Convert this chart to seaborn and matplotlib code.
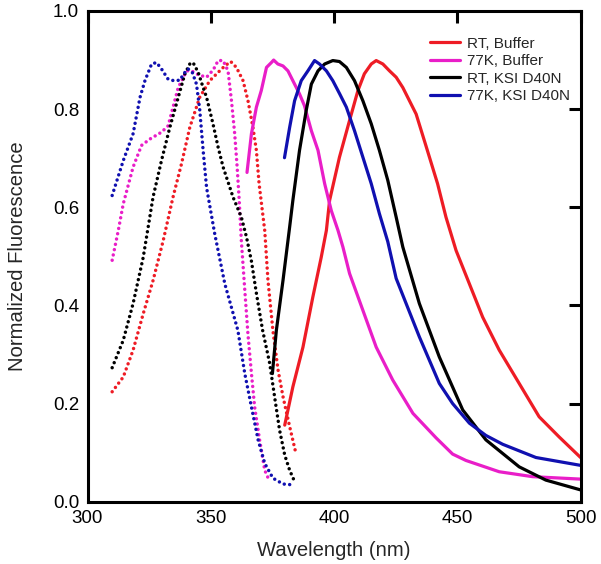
import numpy as np
import pandas as pd
import seaborn as sns
import matplotlib
matplotlib.use("Agg")
from matplotlib import pyplot as plt

# excitation spectra (dotted)
ex_rt_buf_x = [310, 314.5, 318.5, 322.6, 326.6, 330.7, 334.7, 338.1, 341.5, 345.5, 349.6, 353, 355.7, 358.1, 360.4,
               363.1, 365.1, 367.1, 368.5, 369.6, 371.9, 373.2, 375.2, 377.3, 379.3, 382, 384.7]
ex_rt_buf_y = [0.224, 0.254, 0.309, 0.383, 0.451, 0.532, 0.621, 0.688, 0.763, 0.824, 0.858, 0.875, 0.888, 0.897, 0.885,
               0.858, 0.817, 0.763, 0.716, 0.648, 0.552, 0.451, 0.349, 0.268, 0.214, 0.153, 0.095]

ex_77_buf_x = [310, 312.5, 314.5, 318.5, 321.9, 325.3, 330, 332.7, 334.7, 336.8, 340.2, 342.2, 345, 348.3, 351, 353,
               355, 357, 358.4, 359.7, 360.7, 361.5, 362.4, 363.8, 365.1, 366.5, 367.8, 369.8, 371.9, 373.9]
ex_77_buf_y = [0.492, 0.553, 0.607, 0.682, 0.726, 0.739, 0.753, 0.766, 0.804, 0.844, 0.878, 0.878, 0.87, 0.865, 0.88,
               0.899, 0.899, 0.878, 0.817, 0.75, 0.682, 0.617, 0.532, 0.431, 0.34, 0.261, 0.193, 0.126, 0.064, 0.041]

ex_rt_ksi_x = [310, 314.5, 318.5, 322.6, 326.6, 330, 333.4, 336.8, 339.5, 341.5, 342.8, 344.9, 346.9, 348.3, 350.9,
               353, 355, 357.7, 359, 362.4, 364.5, 366.5, 368.5, 371, 373.9, 376, 377.9, 380, 382, 384]
ex_rt_ksi_y = [0.273, 0.329, 0.404, 0.498, 0.621, 0.695, 0.763, 0.824, 0.872, 0.892, 0.895, 0.875, 0.844, 0.824, 0.77,
               0.722, 0.682, 0.641, 0.621, 0.58, 0.539, 0.49, 0.425, 0.35, 0.282, 0.21, 0.146, 0.095, 0.064, 0.041]

ex_77_ksi_x = [310, 314.5, 318.5, 321.3, 323.3, 326, 328, 330, 332.7, 335, 337.5, 339, 340.8, 342.5, 344.2, 345.5,
               346.9, 348.3, 351.6, 355.7, 361, 363.8, 366.5, 369.2, 371.9, 375.2, 379.3, 384]
ex_77_ksi_y = [0.624, 0.695, 0.75, 0.824, 0.858, 0.892, 0.895, 0.882, 0.861, 0.858, 0.859, 0.872, 0.882, 0.875, 0.851,
               0.8, 0.716, 0.64, 0.546, 0.444, 0.349, 0.261, 0.193, 0.126, 0.078, 0.048, 0.036, 0.034]

# emission spectra (solid)
em_rt_buf_x = [380, 383.3, 387.4, 391.4, 394.8, 396.9, 398.2, 402.2, 406.3, 409.7, 412.3, 415.1, 417.1, 419.8, 422.5,
               425.2, 427.9, 430.6, 433.3, 437.3, 442, 445.4, 449.5, 454.9, 460.3, 467, 475.1, 483.2, 491.3, 500]
em_rt_buf_y = [0.156, 0.234, 0.315, 0.417, 0.498, 0.553, 0.614, 0.702, 0.777, 0.838, 0.872, 0.892, 0.899, 0.892, 0.878,
               0.865, 0.844, 0.817, 0.79, 0.725, 0.648, 0.58, 0.512, 0.444, 0.376, 0.309, 0.241, 0.173, 0.132, 0.09]

em_77_buf_x = [364.7, 366.5, 368.5, 370.5, 372.6, 374.6, 375.5, 377.2, 379.3, 381.3, 383.3, 386, 388, 390.8, 393.5,
               396.2, 398.9, 401.6, 403.6, 406.3, 411.7, 417.1, 423.8, 432, 441.4, 448.1, 453.5, 467, 480.5, 500]
em_77_buf_y = [0.671, 0.75, 0.804, 0.838, 0.885, 0.895, 0.9, 0.892, 0.888, 0.878, 0.858, 0.831, 0.807, 0.756, 0.716,
               0.648, 0.593, 0.553, 0.519, 0.465, 0.39, 0.315, 0.248, 0.18, 0.13, 0.097, 0.084, 0.061, 0.051, 0.046]

em_rt_ksi_x = [375, 376.6, 379.3, 382, 383.3, 386, 388.7, 390.8, 393.5, 396.2, 399.5, 402.2, 405, 408.3, 411.7, 415.1,
               418.4, 421.8, 425.2, 427.9, 434.6, 442.7, 452.2, 461.6, 475.1, 485.9, 500]
em_rt_ksi_y = [0.261, 0.349, 0.451, 0.56, 0.614, 0.716, 0.797, 0.851, 0.878, 0.892, 0.899, 0.897, 0.885, 0.858, 0.817,
               0.77, 0.716, 0.655, 0.58, 0.519, 0.404, 0.295, 0.187, 0.126, 0.071, 0.044, 0.024]

em_77_ksi_x = [379.9, 382, 384, 386.7, 389.4, 392.1, 394.1, 396.9, 399.5, 402.3, 405, 408.3, 411.7, 415.1, 418.4,
               421.8, 425.2, 434.6, 442.7, 448.1, 454.9, 461.6, 468.4, 481.9, 500]
em_77_ksi_y = [0.701, 0.763, 0.817, 0.858, 0.878, 0.899, 0.892, 0.878, 0.858, 0.831, 0.804, 0.756, 0.702, 0.648, 0.587,
               0.53, 0.455, 0.336, 0.241, 0.2, 0.16, 0.135, 0.117, 0.09, 0.074]

labels = ["RT, Buffer", "77K, Buffer", "RT, KSI D40N", "77K, KSI D40N"]
colors = ["#ee1c25", "#e91ec8", "#000000", "#1010b0"]

sns.set_style("white")
plt.rcParams['font.family'] = ['Liberation Sans', 'DejaVu Sans']

fig = plt.figure(figsize=(6.01, 5.64), dpi=100)
ax = fig.add_axes([0.1456, 0.1105, 0.8204, 0.8700])

ex = [(ex_rt_buf_x, ex_rt_buf_y), (ex_77_buf_x, ex_77_buf_y), (ex_rt_ksi_x, ex_rt_ksi_y), (ex_77_ksi_x, ex_77_ksi_y)]
em = [(em_rt_buf_x, em_rt_buf_y), (em_77_buf_x, em_77_buf_y), (em_rt_ksi_x, em_rt_ksi_y), (em_77_ksi_x, em_77_ksi_y)]

# dotted excitation curves
for (x, y), c in zip(ex, colors):
    sns.lineplot(x=x, y=y, color=c, linewidth=2.5, ax=ax, sort=False)
    l = ax.lines[-1]
    l.set_linestyle((0, (0.01, 1.55)))
    l.set_dash_capstyle("round")

# solid emission curves
for (x, y), c, lab in zip(em, colors, labels):
    sns.lineplot(x=x, y=y, color=c, linewidth=2.3, ax=ax, sort=False, label=lab)

ax.set_xlim(300, 500)
ax.set_ylim(0, 1.0)
ax.set_xticks([300, 350, 400, 450, 500])
ax.set_yticks([0.0, 0.2, 0.4, 0.6, 0.8, 1.0])
ax.set_yticklabels(["0.0", "0.2", "0.4", "0.6", "0.8", "1.0"])
ax.tick_params(direction="in", length=8.5, width=2.2, labelsize=13.5, top=True, right=True,
               labeltop=False, labelright=False, pad=6, colors="black")
for s in ax.spines.values():
    s.set_linewidth(2.2)
    s.set_color("black")
ax.set_xlabel("Wavelength (nm)", fontsize=14.6, labelpad=10)
ax.set_ylabel("Normalized Fluorescence", fontsize=14.6, labelpad=19)

ax.legend(loc="upper right", bbox_to_anchor=(0.979, 0.948), frameon=False, fontsize=11,
          handlelength=2.0, handletextpad=0.45, labelspacing=0.23, borderpad=0, borderaxespad=0)

fig.savefig("out.png", dpi=100)
